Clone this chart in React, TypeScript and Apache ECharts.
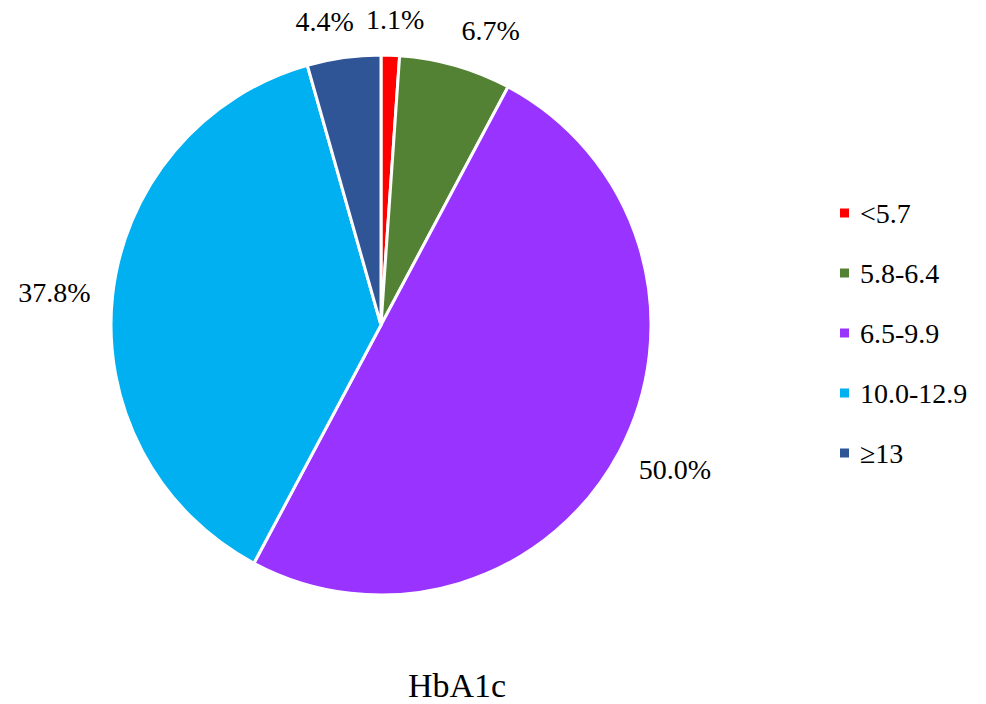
import React, { useEffect, useRef } from "react";
import * as echarts from "echarts";

const categories = ["<5.7", "5.8-6.4", "6.5-9.9", "10.0-12.9", "≥13"];
const values = [1.1, 6.7, 50.0, 37.8, 4.4];
const colors = ["#FF0000", "#548235", "#9933FF", "#00B0F0", "#2F5597"];
const chartTitle = "HbA1c";

const CX = 381;
const CY = 325;
const R = 270;
const GAP = 22;
const FONT = "Liberation Serif";

export default function App() {
  const ref = useRef<HTMLDivElement>(null);
  useEffect(() => {
    document.body.style.margin = "0";
    if (!ref.current) return;
    const chart = echarts.init(ref.current, undefined, { renderer: "svg" });
    const total = values.reduce((a, b) => a + b, 0);
    const option = {
      animation: false,
      backgroundColor: "#ffffff",
      textStyle: { fontFamily: FONT, fontWeight: "normal" },
      title: {
        text: chartTitle,
        left: 452,
        textAlign: "center",
        top: 663,
        textStyle: { fontFamily: FONT, fontSize: 34, fontWeight: "normal", color: "#000" },
      },
      legend: {
        orient: "vertical",
        left: 833,
        top: 194,
        itemWidth: 11,
        itemHeight: 11,
        itemGap: 32,
        icon: "rect",
        textStyle: {
          fontFamily: FONT,
          fontSize: 28,
          fontWeight: "normal",
          color: "#000",
          padding: [0, 0, 0, 5],
        },
        data: categories,
      },
      series: [
        {
          type: "pie",
          center: [CX, CY],
          radius: [0, R],
          startAngle: 90,
          clockwise: true,
          avoidLabelOverlap: false,
          itemStyle: { borderColor: "#ffffff", borderWidth: 3 },
          label: {
            show: true,
            position: "outside",
            fontFamily: FONT,
            fontSize: 28,
            fontWeight: "normal",
            color: "#000",
            formatter: (p: any) => values[p.dataIndex].toFixed(1) + "%",
          },
          labelLine: { show: false },
          labelLayout: (p: any) => {
            let cum = 0;
            for (let i = 0; i < p.dataIndex; i++) cum += values[i];
            const mid = ((cum + values[p.dataIndex] / 2) / total) * Math.PI * 2;
            const dx = Math.sin(mid);
            const dy = -Math.cos(mid);
            const w = p.labelRect.width;
            const h = p.labelRect.height;
            const sx = Math.sign(dx) * Math.min(1, Math.abs(dx) * 4);
            const ax = CX + dx * (R + GAP);
            const ay = CY + dy * (R + GAP);
            return {
              x: ax + sx * (w / 2),
              y: ay + dy * (h / 2),
              align: "center",
              verticalAlign: "middle",
            };
          },
          data: categories.map((c, i) => ({
            name: c,
            value: values[i],
            itemStyle: { color: colors[i] },
          })),
        },
      ],
    };
    chart.setOption(option as any);
    return () => chart.dispose();
  }, []);
  return <div ref={ref} style={{ width: 986, height: 704 }} />;
}
